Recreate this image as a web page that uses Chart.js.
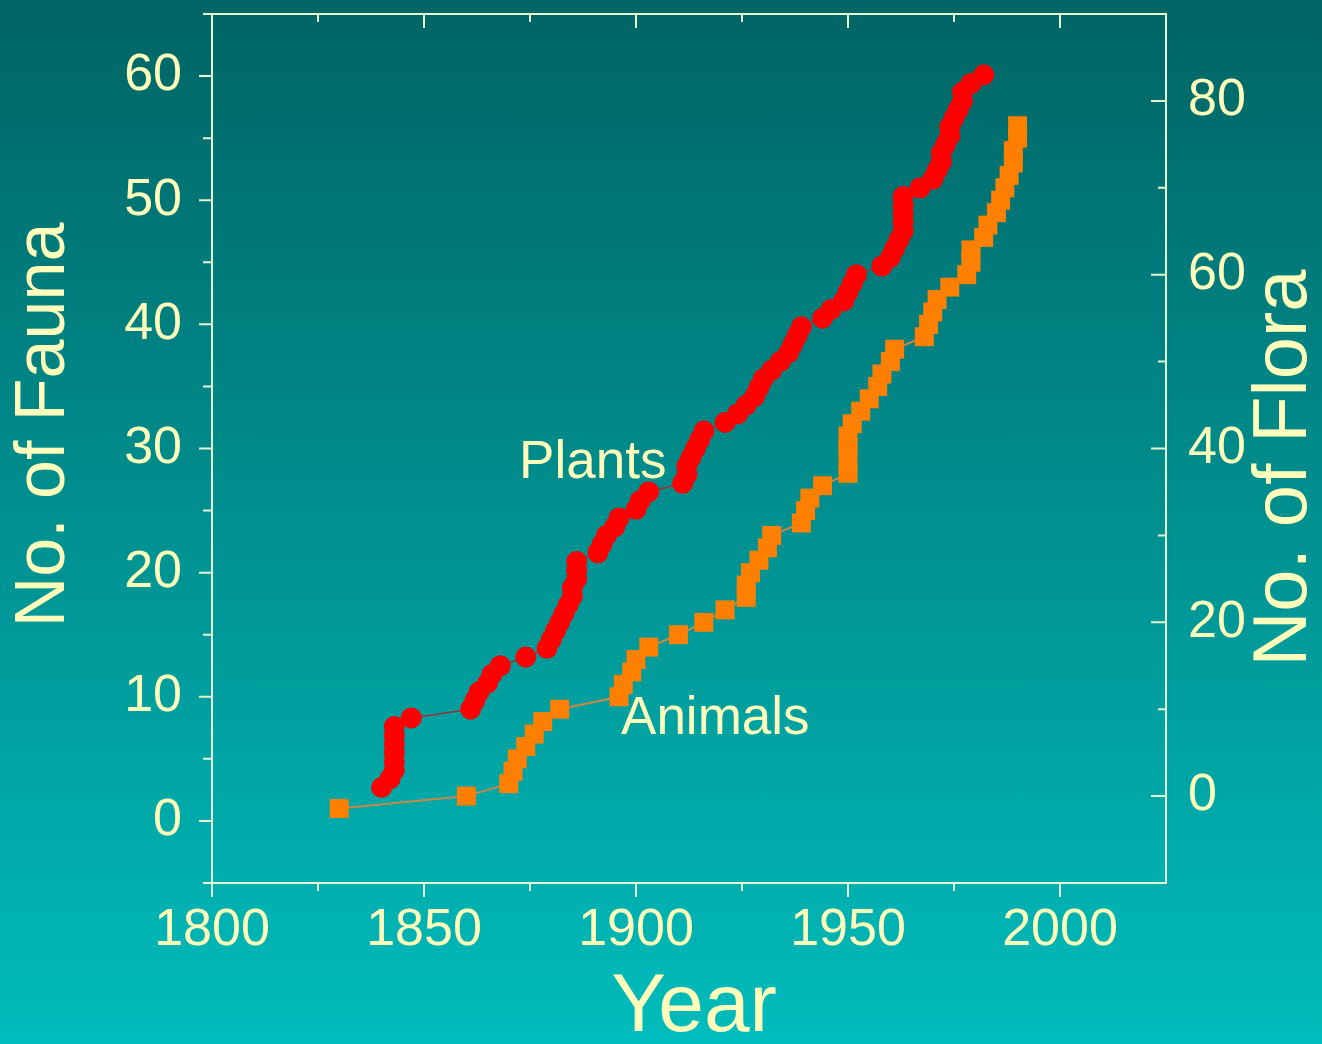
<!DOCTYPE html>
<html>
<head>
<meta charset="utf-8">
<title>No. of Fauna / No. of Flora</title>
<script src="https://cdn.jsdelivr.net/npm/chart.js@4.4.1/dist/chart.umd.min.js"></script>
<style>
  html, body { margin: 0; padding: 0; }
  body {
    width: 1322px; height: 1044px; overflow: hidden;
    background: linear-gradient(to bottom, #006464 0%, #00bcbc 100%);
  }
  canvas { display: block; }
</style>
</head>
<body>
<canvas id="myChart" width="1322" height="1044"></canvas>
<script>

// Plants (No. of Flora, right axis) - cumulative count per year
const plantYears = [1840, 1842, 1843, 1843, 1843, 1843, 1843, 1843, 1847,
    1861, 1862, 1863, 1865, 1866, 1868, 1874, 1879, 1880, 1881, 1882, 1883, 1884, 1885, 1885, 1886, 1886, 1886,
    1891, 1892, 1893, 1895, 1896, 1900, 1901, 1903, 1911, 1912, 1912, 1913, 1914, 1915, 1916,
    1921, 1924, 1926, 1928, 1929, 1930, 1932, 1934, 1936, 1937, 1938, 1939,
    1944, 1946, 1949, 1950, 1951, 1952, 1958, 1960, 1961, 1962, 1963, 1963, 1963, 1963, 1963,
    1967, 1970, 1971, 1972, 1972, 1973, 1974, 1974, 1975, 1976, 1977, 1977, 1979, 1982]
const plantCounts = [1, 2, 3, 4, 5, 6, 7, 8, 9,
    10, 11, 12, 13, 14, 15, 16, 17, 18, 19, 20, 21, 22, 23, 24, 25, 26, 27,
    28, 29, 30, 31, 32, 33, 34, 35, 36, 37, 38, 39, 40, 41, 42,
    43, 44, 45, 46, 47, 48, 49, 50, 51, 52, 53, 54,
    55, 56, 57, 58, 59, 60, 61, 62, 63, 64, 65, 66, 67, 68, 69,
    70, 71, 72, 73, 74, 75, 76, 77, 78, 79, 80, 81, 82, 83]

// Animals (No. of Fauna, left axis)
const animalYears = [1830, 1860, 1870, 1871, 1872, 1874, 1876, 1878, 1882,
    1896, 1897, 1899, 1900, 1903, 1910, 1916, 1921, 1926, 1926, 1927, 1929, 1931, 1932,
    1939, 1940, 1941, 1944, 1950, 1950, 1950, 1950, 1951, 1953, 1955, 1957, 1958, 1960, 1961,
    1968, 1969, 1970, 1971, 1974, 1978, 1979, 1979, 1982, 1983, 1985, 1986, 1987, 1988, 1989, 1989, 1990, 1990]
const animalCounts = [1, 2, 3, 4, 5, 6, 7, 8, 9,
    10, 11, 12, 13, 14, 15, 16, 17, 18, 19, 20, 21, 22, 23,
    24, 25, 26, 27, 28, 29, 30, 31, 32, 33, 34, 35, 36, 37, 38,
    39, 40, 41, 42, 43, 44, 45, 46, 47, 48, 49, 50, 51, 52, 53, 54, 55, 56]

// Tick values
const yearTicks = [1800, 1850, 1900, 1950, 2000]
const yearMinor = [1825, 1875, 1925, 1975]
const faunaTicks = [0, 10, 20, 30, 40, 50, 60]
const faunaMinor = [-5, 5, 15, 25, 35, 45, 55, 65]
const floraTicks = [0, 20, 40, 60, 80]
const floraMinor = [10, 30, 50, 70]

const textColor = '#ffffbb'
const axisColor = '#e4f6d2'
const fontFamily = "'Liberation Sans', Arial, sans-serif"


// frame + tick marks (left/bottom outward, top/right inward)
const frameTicks = {
    id: 'frameTicks',
    beforeDatasetsDraw(chart) {
        const { ctx, chartArea: a, scales } = chart
        ctx.save()
        ctx.strokeStyle = axisColor
        ctx.lineWidth = 2
        ctx.strokeRect(a.left, a.top, a.right - a.left, a.bottom - a.top)
        ctx.beginPath()
        const tickX = (vals, len) => vals.forEach(v => {
            const x = scales.x.getPixelForValue(v)
            ctx.moveTo(x, a.bottom); ctx.lineTo(x, a.bottom + len)
            ctx.moveTo(x, a.top); ctx.lineTo(x, a.top + len)
        })
        tickX(yearTicks, 14)
        tickX(yearMinor, 8)
        const tickL = (vals, len) => vals.forEach(v => {
            const y = scales.y.getPixelForValue(v)
            ctx.moveTo(a.left, y); ctx.lineTo(a.left - len, y)
        })
        tickL(faunaTicks, 13)
        tickL(faunaMinor, 9)
        const tickR = (vals, len) => vals.forEach(v => {
            const y = scales.y1.getPixelForValue(v)
            ctx.moveTo(a.right, y); ctx.lineTo(a.right - len, y)
        })
        tickR(floraTicks, 15)
        tickR(floraMinor, 8)
        ctx.stroke()
        ctx.restore()
    },
    afterDatasetsDraw(chart) {
        const { ctx, chartArea: a, scales } = chart
        ctx.save()
        ctx.fillStyle = textColor
        ctx.textAlign = 'center'
        ctx.textBaseline = 'middle'

        // series labels
        ctx.font = '53px ' + fontFamily
        ctx.fillText('Plants', scales.x.getPixelForValue(1889.8), scales.y.getPixelForValue(28.8))
        ctx.fillText('Animals', scales.x.getPixelForValue(1918.7), scales.y.getPixelForValue(8.2))

        // axis titles
        ctx.font = '82px ' + fontFamily
        ctx.fillText('Year', (a.left + a.right) / 2 + 5, 1008)

        ctx.font = '70px ' + fontFamily
        ctx.translate(45, 425)
        ctx.rotate(-Math.PI / 2)
        ctx.fillText('No. of Fauna', 0, 0)
        ctx.restore()

        ctx.save()
        ctx.fillStyle = textColor
        ctx.textAlign = 'center'
        ctx.textBaseline = 'middle'
        ctx.font = '76px ' + fontFamily
        ctx.translate(1285, 468)
        ctx.rotate(-Math.PI / 2)
        ctx.fillText('No. of Flora', 0, 0)
        ctx.restore()
    }
}


const plantData = plantYears.map((yr, i) => ({ x: yr, y: plantCounts[i] }))
const animalData = animalYears.map((yr, i) => ({ x: yr, y: animalCounts[i] }))

const tickFont = { family: fontFamily, size: 52 }

// keep the plot box fixed: drop label overhang padding
const fixH = h => s => { s.height = h; s.paddingLeft = 0; s.paddingRight = 0 }
const fixW = w => s => { s.width = w; s.paddingTop = 0; s.paddingBottom = 0 }

const data = {
    datasets: [{
        label: 'Plants',
        data: plantData,
        yAxisID: 'y1',
        borderColor: '#8a3a3a',
        borderWidth: 1.5,
        pointStyle: 'circle',
        pointRadius: 10.5,
        pointBackgroundColor: '#ff0000',
        pointBorderWidth: 0,
        tension: 0
    }, {
        label: 'Animals',
        data: animalData,
        yAxisID: 'y',
        borderColor: '#c8884a',
        borderWidth: 2,
        pointStyle: 'rect',
        pointRadius: 13.4,
        pointBackgroundColor: '#ff8000',
        pointBorderWidth: 0,
        tension: 0
    }]
}

const config = {
    type: 'line',
    data: data,
    options: {
        responsive: false,
        animation: false,
        devicePixelRatio: 1,
        layout: { padding: { top: 14, left: 0, right: 0, bottom: 0 } },
        plugins: {
            legend: { display: false },
            tooltip: { enabled: false }
        },
        scales: {
            x: {
                type: 'linear',
                min: 1800,
                max: 2025,
                grid: { display: false },
                border: { display: false },
                afterBuildTicks: s => { s.ticks = yearTicks.map(v => ({ value: v })) },
                afterFit: fixH(161),
                ticks: {
                    color: textColor,
                    font: tickFont,
                    padding: 8,
                    maxRotation: 0,
                    callback: v => String(v)
                }
            },
            y: {
                type: 'linear',
                position: 'left',
                min: -5,
                max: 65,
                grid: { display: false },
                border: { display: false },
                afterBuildTicks: s => { s.ticks = faunaTicks.map(v => ({ value: v })) },
                afterFit: fixW(212),
                ticks: {
                    color: textColor,
                    font: tickFont,
                    padding: 22,
                    callback: v => String(v)
                }
            },
            y1: {
                type: 'linear',
                position: 'right',
                min: -10,
                max: 90,
                grid: { display: false },
                border: { display: false },
                afterBuildTicks: s => { s.ticks = floraTicks.map(v => ({ value: v })) },
                afterFit: fixW(156),
                ticks: {
                    color: textColor,
                    font: tickFont,
                    padding: 14,
                    callback: v => String(v)
                }
            }
        }
    },
    plugins: [frameTicks]
}

const ctx = document.getElementById('myChart').getContext('2d')
new Chart(ctx, config)

</script>
</body>
</html>
